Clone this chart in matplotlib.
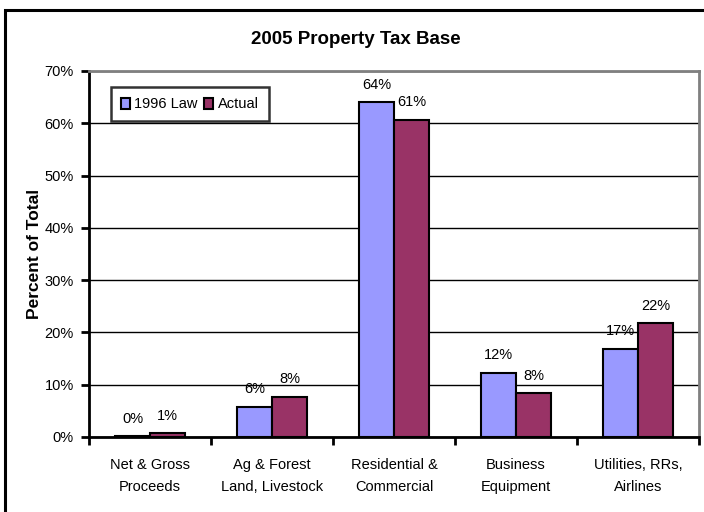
import matplotlib
matplotlib.use("Agg")
import matplotlib.pyplot as plt
import numpy as np
from matplotlib.patches import Rectangle, Patch

categories = ["Net & Gross\nProceeds", "Ag & Forest\nLand, Livestock", "Residential &\nCommercial",
              "Business\nEquipment", "Utilities, RRs,\nAirlines"]
law_1996 = [0.2, 5.8, 64.0, 12.3, 16.9]
actual = [0.7, 7.7, 60.7, 8.4, 21.8]
law_labels = ["0%", "6%", "64%", "12%", "17%"]
actual_labels = ["1%", "8%", "61%", "8%", "22%"]
yticks = [0, 10, 20, 30, 40, 50, 60, 70]

BLUE = "#9999FF"
MAROON = "#993366"
FS = 10.5

plt.rcParams["font.family"] = ["Liberation Sans", "DejaVu Sans"]
plt.rcParams["font.size"] = FS

fig = plt.figure(figsize=(7.04, 5.12), dpi=100)
fig.patch.set_facecolor("white")
# outer chart frame (only left/top edges fall inside the image)
fig.patches.append(Rectangle((5 / 704, -0.1), 1.2, (512 - 10) / 512 + 0.1, transform=fig.transFigure,
                             fill=False, edgecolor="black", linewidth=2.2))

ax = fig.add_axes([89 / 704, (512 - 437) / 512, (699 - 89) / 704, (437 - 71) / 512])
x = np.arange(len(categories))
w = 0.285
b1 = ax.bar(x - w / 2, law_1996, w, color=BLUE, edgecolor="black", linewidth=1.5, label="1996 Law", zorder=3)
b2 = ax.bar(x + w / 2, actual, w, color=MAROON, edgecolor="black", linewidth=1.5, label="Actual", zorder=3)

for bars, labs in ((b1, law_labels), (b2, actual_labels)):
    for rect, lab in zip(bars, labs):
        ax.annotate(lab, (rect.get_x() + rect.get_width() / 2, rect.get_height()),
                    xytext=(0, 12.5), textcoords="offset points", ha="center", va="center", fontsize=FS)

ax.set_xlim(-0.5, len(categories) - 0.5)
ax.set_ylim(0, 70)
ax.set_yticks(yticks)
ax.set_yticklabels([f"{v}%" for v in yticks])
ax.set_xticks(np.arange(len(categories) + 1) - 0.5)
ax.set_xticklabels([])
ax.set_xticks(x, minor=True)
ax.set_xticklabels(categories, minor=True, linespacing=1.75)
ax.tick_params(axis="x", which="minor", length=0, pad=15)
ax.tick_params(axis="x", which="major", length=6, width=2, direction="out")
ax.tick_params(axis="y", length=6, width=2, direction="out", pad=5)

ax.yaxis.grid(True, color="black", linewidth=1.0, zorder=0)
ax.set_axisbelow(True)
for s in ("top", "right"):
    ax.spines[s].set_color("#808080")
    ax.spines[s].set_linewidth(2)
for s in ("left", "bottom"):
    ax.spines[s].set_color("black")
    ax.spines[s].set_linewidth(2)

ax.set_ylabel("Percent of Total", fontweight="bold", fontsize=12.5)
ax.yaxis.set_label_coords(-(89 - 42) / 610, 0.5)
fig.text(356 / 704, 1 - 40 / 512, "2005 Property Tax Base", ha="center", va="center",
         fontweight="bold", fontsize=13.5)

leg = ax.legend(handles=[Patch(facecolor=BLUE, edgecolor="black", linewidth=1.5, label="1996 Law"),
                         Patch(facecolor=MAROON, edgecolor="black", linewidth=1.5, label="Actual")],
                loc="upper left", bbox_to_anchor=((111 - 89) / 610, 1 - (87 - 71) / 366), ncol=2,
                frameon=True, fancybox=False, handlelength=0.6, handleheight=0.8, handletextpad=0.3,
                columnspacing=0.45, borderpad=0.7, borderaxespad=0, fontsize=FS)
leg.get_frame().set_edgecolor("black")
leg.get_frame().set_linewidth(1.8)

fig.savefig("out.png", dpi=100, facecolor="white")
